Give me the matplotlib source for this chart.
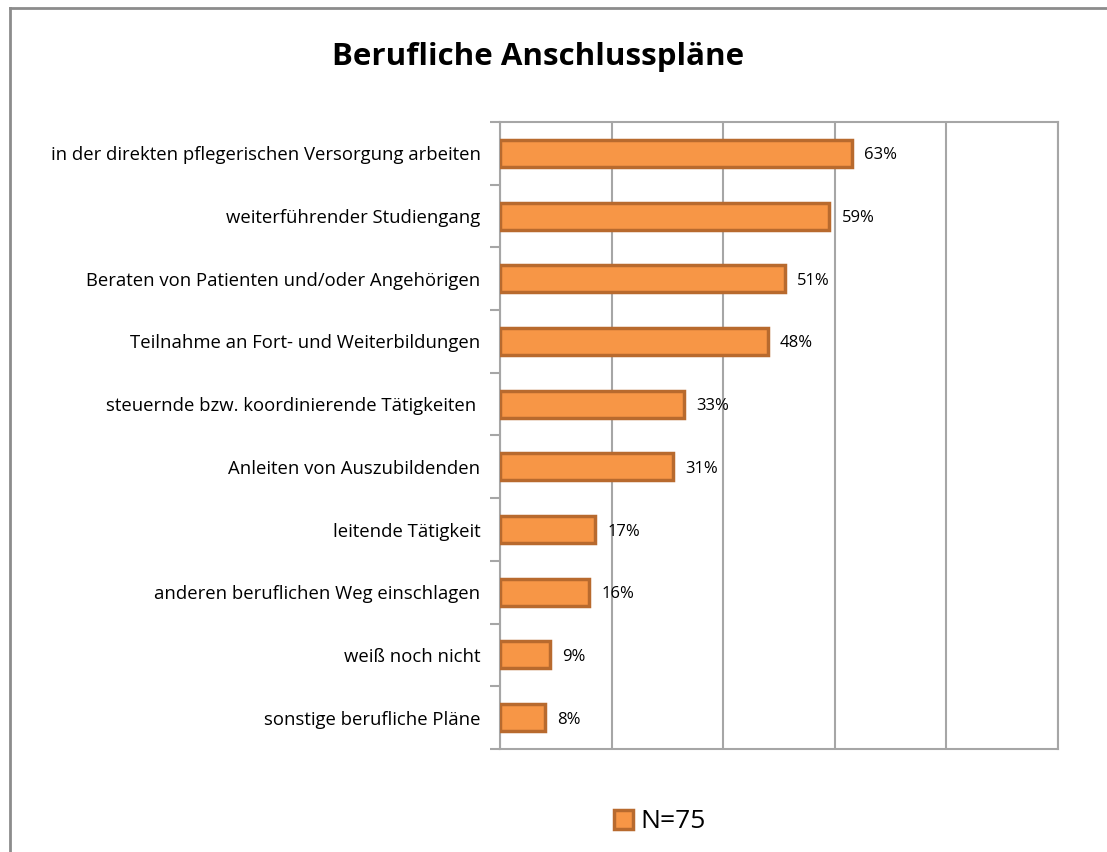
import matplotlib
matplotlib.use('Agg')
import matplotlib.pyplot as plt
from matplotlib.patches import Patch
from matplotlib.lines import Line2D

categories = [
    'in der direkten pflegerischen Versorgung arbeiten',
    'weiterführender Studiengang',
    'Beraten von Patienten und/oder Angehörigen',
    'Teilnahme an Fort- und Weiterbildungen',
    'steuernde bzw. koordinierende Tätigkeiten ',
    'Anleiten von Auszubildenden',
    'leitende Tätigkeit',
    'anderen beruflichen Weg einschlagen',
    'weiß noch nicht',
    'sonstige berufliche Pläne',
]
values = [63, 59, 51, 48, 33, 31, 17, 16, 9, 8]
series_name = 'N=75'

FILL = '#F79646'
EDGE = '#B86A2E'
GRID = '#A6A6A6'

plt.rcParams['font.family'] = ['Open Sans', 'DejaVu Sans']

fig = plt.figure(figsize=(11.07, 8.52), dpi=100)
ax = fig.add_axes([500 / 1107, 1 - 749 / 852, 558 / 1107, 627 / 852])

n = len(categories)
ypos = list(range(n))
ax.barh(ypos, values, height=0.43, color=FILL, edgecolor=EDGE, linewidth=2.5, zorder=3)
ax.set_ylim(n - 0.5, -0.5)
ax.set_xlim(0, 100)

ax.set_xticks([0, 20, 40, 60, 80, 100])
ax.tick_params(axis='x', length=0, labelbottom=False)
ax.grid(axis='x', color=GRID, linewidth=1.5, zorder=0)

ax.set_yticks(ypos)
ax.set_yticklabels(categories, fontsize=13.3)
ax.set_yticks([i - 0.5 for i in range(n + 1)], minor=True)
ax.tick_params(axis='y', which='major', length=0, pad=14)
ax.tick_params(axis='y', which='minor', length=7, color=GRID, width=1.5)

for s in ax.spines.values():
    s.set_color(GRID)
    s.set_linewidth(1.5)

for y, v in zip(ypos, values):
    ax.text(v + 2.2, y, f'{v}%', va='center_baseline', ha='left', fontsize=12, zorder=4)

fig.text(538 / 1107, 1 - 57 / 852, 'Berufliche Anschlusspläne',
         ha='center', va='center', fontsize=22.5, fontweight='bold')

handle = Patch(facecolor=FILL, edgecolor=EDGE, linewidth=2.5)
fig.legend([handle], [series_name], loc='center', bbox_to_anchor=(660 / 1107, 1 - 822 / 852),
           frameon=False, fontsize=19, handlelength=0.7, handleheight=0.7, handletextpad=0.3)

# outer chart frame (only top and left edges visible)
fig.add_artist(Line2D([10 / 1107, 10 / 1107], [0, 1 - 8 / 852], transform=fig.transFigure,
                      color='#8C8C8C', linewidth=2))
fig.add_artist(Line2D([10 / 1107, 1], [1 - 8 / 852, 1 - 8 / 852], transform=fig.transFigure,
                      color='#8C8C8C', linewidth=2))

fig.savefig('out.png', dpi=100)
